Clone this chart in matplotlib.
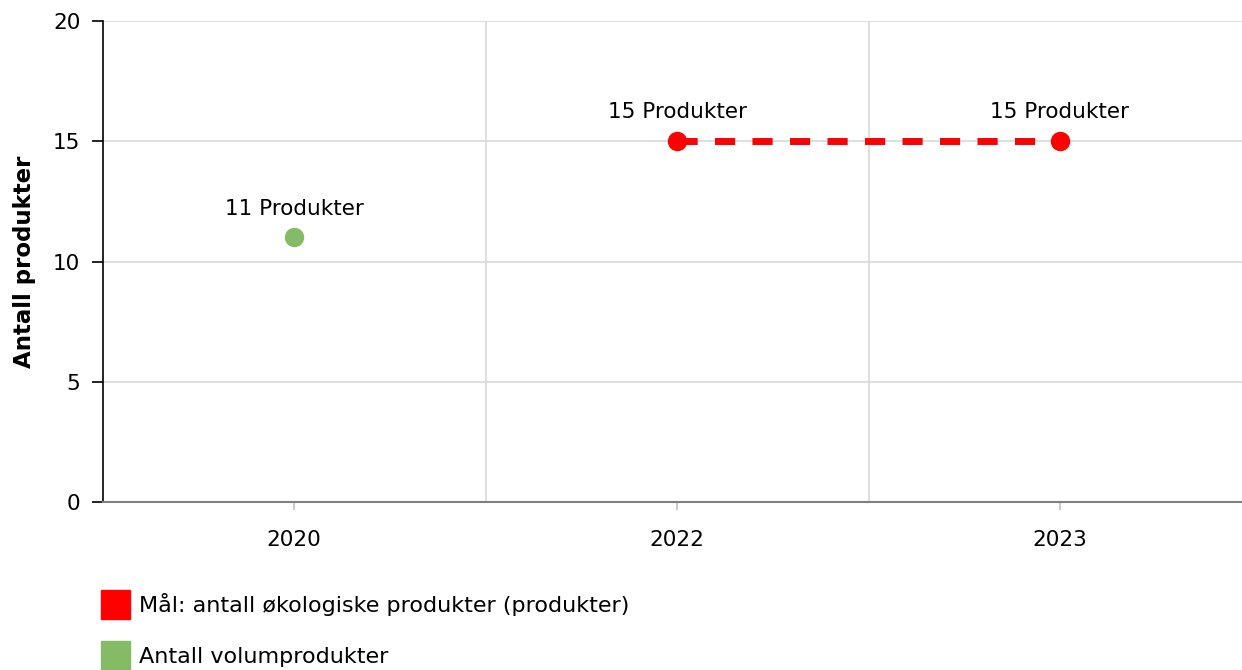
import numpy as np
import matplotlib
matplotlib.use('Agg')
import matplotlib.pyplot as plt
from matplotlib.patches import Rectangle

# data
years = ['2020', '2022', '2023']
maal_years = ['2022', '2023']
maal_values = [15, 15]
volum_years = ['2020']
volum_values = [11]
y_ticks = [0, 5, 10, 15, 20]

red = '#ff0000'
green = '#86bb66'
fs = 15.5

plt.rcParams['font.family'] = ['DejaVu Sans']

fig = plt.figure(figsize=(12.42, 6.70), dpi=100)
ax = fig.add_axes([102.5 / 1242, 168 / 670, 1149 / 1242, 481 / 670])

xpos = {y: i for i, y in enumerate(years)}

mx = [xpos[y] for y in maal_years]
ax.plot(mx, maal_values, color=red, lw=5, dashes=(2.9, 2.5), zorder=3)
ax.plot(mx, maal_values, 'o', color=red, ms=13, zorder=4)
for x, v in zip(mx, maal_values):
    ax.annotate('%d Produkter' % v, (x, v), xytext=(0, 14), textcoords='offset points',
                ha='center', va='bottom', fontsize=fs)

vx = [xpos[y] for y in volum_years]
ax.plot(vx, volum_values, 'o', color=green, ms=13, zorder=4)
for x, v in zip(vx, volum_values):
    ax.annotate('%d Produkter' % v, (x, v), xytext=(0, 13), textcoords='offset points',
                ha='center', va='bottom', fontsize=fs)

ax.set_xlim(-0.5, len(years) - 0.5)
ax.set_ylim(0, 20)
ax.set_yticks(y_ticks)
ax.set_xticks(range(len(years)))
ax.set_xticklabels(years)
ax.set_xticks(np.arange(len(years) - 1) + 0.5, minor=True)

ax.grid(axis='y', color='#d9d9d9', lw=1.2, zorder=0)
ax.grid(axis='x', which='minor', color='#d9d9d9', lw=1.2, zorder=0)
ax.set_axisbelow(True)

for s in ['top', 'right']:
    ax.spines[s].set_visible(False)
ax.spines['bottom'].set_color('#7f7f7f')
ax.spines['bottom'].set_linewidth(1.5)
ax.spines['left'].set_color('black')
ax.spines['left'].set_linewidth(1.2)

ax.tick_params(axis='y', length=8, width=1.2, labelsize=fs, color='black', pad=8)
ax.tick_params(axis='x', which='major', length=6, width=1.2, color='#c0c0c0',
               labelsize=fs, pad=14)
ax.tick_params(axis='x', which='minor', length=0)

ax.set_ylabel('Antall produkter', fontsize=16.5, fontweight='bold', labelpad=12)

# legend drawn in figure pixels
fig.patches.append(Rectangle((101 / 1242, (670 - 619) / 670), 29 / 1242, 29 / 670,
                             transform=fig.transFigure, color=red, figure=fig))
fig.text(139 / 1242, (670 - 605) / 670, 'Mål: antall økologiske produkter (produkter)',
         va='center', ha='left', fontsize=16)
fig.patches.append(Rectangle((101 / 1242, 0), 29 / 1242, 29 / 670,
                             transform=fig.transFigure, color=green, figure=fig))
fig.text(139 / 1242, (670 - 657) / 670, 'Antall volumprodukter',
         va='center', ha='left', fontsize=16)

fig.savefig('out.png', dpi=100)
